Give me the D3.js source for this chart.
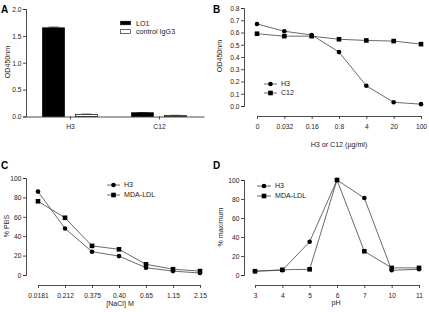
<!DOCTYPE html>
<html><head><meta charset="utf-8">
<script src="https://cdn.jsdelivr.net/npm/d3@7"></script>
<style>
html,body{margin:0;padding:0;background:#fff;}
svg{display:block;font-family:"Liberation Sans",Arial,sans-serif;}
</style></head>
<body>
<svg id="c" width="429" height="312"></svg>
<script>
// ---- Data ----
// Panel A
const aCategories = ["H3", "C12"];
const aSeries = ["LO1", "control IgG3"];
const aLO1 = [1.65, 0.07];
const aIgG3 = [0.04, 0.02];
const aLO1Err = [0.015, 0.004];
const aIgG3Err = [0.006, 0.003];
const aYTicks = [0, 0.5, 1.0, 1.5, 2.0];
// Panel B
const bCategories = ["0", "0.032", "0.16", "0.8", "4", "20", "100"];
const bH3 = [0.67, 0.61, 0.58, 0.44, 0.165, 0.03, 0.015];
const bC12 = [0.59, 0.57, 0.57, 0.545, 0.535, 0.53, 0.505];
const bYTicks = [0, 0.1, 0.2, 0.3, 0.4, 0.5, 0.6, 0.7, 0.8];
// Panel C
const cCategories = ["0.0181", "0.212", "0.375", "0.40", "0.65", "1.15", "2.15"];
const cH3 = [86, 48, 24, 19.5, 7.5, 4, 2];
const cMDA = [76, 59, 30, 26.5, 11, 6, 4];
const cYTicks = [0, 20, 40, 60, 80, 100];
// Panel D
const dCategories = ["3", "4", "5", "6", "7", "10", "11"];
const dH3 = [4, 5, 35, 100, 81, 5, 6];
const dMDA = [4, 5.5, 6, 100, 25, 7.5, 7.5];
const dYTicks = [0, 20, 40, 60, 80, 100];

const svg = d3.select("#c");
const AX = "#222", LN = "#444";
const tickFont = 6.7, titleFont = 7.1;

function styleAxis(g) {
  g.selectAll("path.domain").attr("stroke", AX).attr("stroke-width", 0.8);
  g.selectAll(".tick line").attr("stroke", AX).attr("stroke-width", 0.8);
  g.selectAll(".tick text").attr("fill", "#222").attr("font-size", tickFont)
    .attr("font-family", "Liberation Sans, Arial, sans-serif");
}
function yAxis(x, y, ticks, fmt) {
  const g = svg.append("g").attr("transform", `translate(${x},0)`)
    .call(d3.axisLeft(y).tickValues(ticks).tickFormat(fmt).tickSize(3).tickPadding(1.5));
  styleAxis(g);
  g.selectAll(".tick text").attr("dy", "0.35em");
  return g;
}
function xAxis(yPos, x, tickSize) {
  const g = svg.append("g").attr("transform", `translate(0,${yPos})`)
    .call(d3.axisBottom(x).tickSize(tickSize).tickSizeOuter(0).tickPadding(5));
  styleAxis(g);
  return g;
}
function label(txt, x, y) {
  svg.append("text").attr("x", x).attr("y", y).text(txt)
    .attr("font-size", 10).attr("font-weight", "bold").attr("font-family", "Liberation Sans, Arial, sans-serif");
}
function yTitle(txt, x, y) {
  svg.append("text").attr("transform", `translate(${x},${y}) rotate(-90)`)
    .attr("text-anchor", "middle").attr("dy", "0.35em").attr("font-size", titleFont).attr("fill", "#222").text(txt);
}
function xTitle(txt, x, y) {
  svg.append("text").attr("x", x).attr("y", y).attr("text-anchor", "middle")
    .attr("dy", "0.35em").attr("font-size", titleFont).attr("fill", "#222").text(txt);
}
function marker(g, shape, cx, cy) {
  if (shape === "circle") g.append("circle").attr("cx", cx).attr("cy", cy).attr("r", 2.3).attr("fill", "#000");
  else g.append("rect").attr("x", cx - 2.3).attr("y", cy - 2.3).attr("width", 4.6).attr("height", 4.6).attr("fill", "#000");
}
function series(x, y, cats, vals, shape) {
  const g = svg.append("g");
  const line = d3.line().x((d, i) => x(cats[i])).y(d => y(d));
  g.append("path").attr("d", line(vals)).attr("fill", "none").attr("stroke", LN).attr("stroke-width", 0.8);
  vals.forEach((v, i) => marker(g, shape, x(cats[i]), y(v)));
}
function legendLine(x0, x1, yy, shape, txt) {
  const g = svg.append("g");
  g.append("line").attr("x1", x0).attr("x2", x1).attr("y1", yy).attr("y2", yy).attr("stroke", LN).attr("stroke-width", 0.8);
  marker(g, shape, (x0 + x1) / 2, yy);
  g.append("text").attr("x", x1 + 4).attr("y", yy).attr("dy", "0.35em").attr("font-size", titleFont).attr("fill", "#222").text(txt);
}

// ---- Panel A ----
{
  const y = d3.scaleLinear().domain([0, 2]).range([116.5, 9]);
  const x = d3.scaleBand().domain(aCategories).range([26, 204]).padding(0);
  const xs = d3.scaleBand().domain(aSeries).range([16.5, 71.5]).paddingInner(1/3);
  const vals = [aLO1, aIgG3], errs = [aLO1Err, aIgG3Err];
  aCategories.forEach((c, i) => {
    aSeries.forEach((s, j) => {
      const bx = x(c) + xs(s), v = vals[j][i], e = errs[j][i];
      svg.append("line").attr("x1", bx + xs.bandwidth()/2).attr("x2", bx + xs.bandwidth()/2)
        .attr("y1", y(v)).attr("y2", y(v + e)).attr("stroke", "#333").attr("stroke-width", 0.7);
      svg.append("line").attr("x1", bx + xs.bandwidth()/2 - 5).attr("x2", bx + xs.bandwidth()/2 + 5)
        .attr("y1", y(v + e)).attr("y2", y(v + e)).attr("stroke", "#333").attr("stroke-width", 0.7);
      svg.append("rect").attr("x", bx).attr("y", y(v)).attr("width", xs.bandwidth())
        .attr("height", y(0) - y(v))
        .attr("fill", j === 0 ? "#000" : "#fff").attr("stroke", "#000").attr("stroke-width", 0.7);
    });
  });
  yAxis(26, y, aYTicks, d3.format(".1f"));
  const gx = svg.append("g").attr("transform", "translate(0,116.5)")
    .call(d3.axisBottom(x).tickSize(3).tickSizeOuter(0).tickPadding(5));
  styleAxis(gx);
  aSeries.forEach((s, j) => {
    const yy = 23 + j * 8.5;
    svg.append("rect").attr("x", 120.5).attr("y", yy - 1.8).attr("width", 10).attr("height", 3.6)
      .attr("fill", j === 0 ? "#000" : "#fff").attr("stroke", "#000").attr("stroke-width", 0.6);
    svg.append("text").attr("x", 136).attr("y", yy).attr("dy", "0.35em").attr("font-size", 7.2).attr("fill", "#222").text(s);
  });
  yTitle("OD450nm", 7, 62);
  label("A", 1, 12.5);
}

// ---- Panel B ----
{
  const y = d3.scaleLinear().domain([0, 0.8]).range([106, 8]);
  const x = d3.scalePoint().domain(bCategories).range([257, 421]);
  yAxis(244, y, bYTicks, d3.format(".1f"));
  xAxis(116, x, 3);
  series(x, y, bCategories, bC12, "square");
  series(x, y, bCategories, bH3, "circle");
  legendLine(264, 277, 84, "circle", "H3");
  legendLine(264, 277, 93, "square", "C12");
  yTitle("OD450nm", 219, 56);
  xTitle("H3 or C12 (µg/ml)", 339, 145);
  label("B", 213, 12.5);
}

// ---- Panel C ----
{
  const y = d3.scaleLinear().domain([0, 100]).range([275, 178]);
  const x = d3.scalePoint().domain(cCategories).range([38, 200]);
  yAxis(26, y, cYTicks, d3.format("d"));
  xAxis(285, x, 3);
  series(x, y, cCategories, cMDA, "square");
  series(x, y, cCategories, cH3, "circle");
  legendLine(107, 120, 185, "circle", "H3");
  legendLine(107, 120, 195, "square", "MDA-LDL");
  yTitle("% PBS", 6, 226);
  xTitle("[NaCl] M", 120, 303.5);
  label("C", 1, 168.5);
}

// ---- Panel D ----
{
  const y = d3.scaleLinear().domain([0, 100]).range([275, 180]);
  const x = d3.scalePoint().domain(dCategories).range([255, 419]);
  yAxis(244, y, dYTicks, d3.format("d"));
  xAxis(285, x, 3);
  series(x, y, dCategories, dMDA, "square");
  series(x, y, dCategories, dH3, "circle");
  legendLine(257, 271, 186, "circle", "H3");
  legendLine(257, 271, 196, "square", "MDA-LDL");
  yTitle("% maximum", 220, 227);
  xTitle("pH", 336, 303);
  label("D", 213, 168.5);
}
</script>
</body></html>
